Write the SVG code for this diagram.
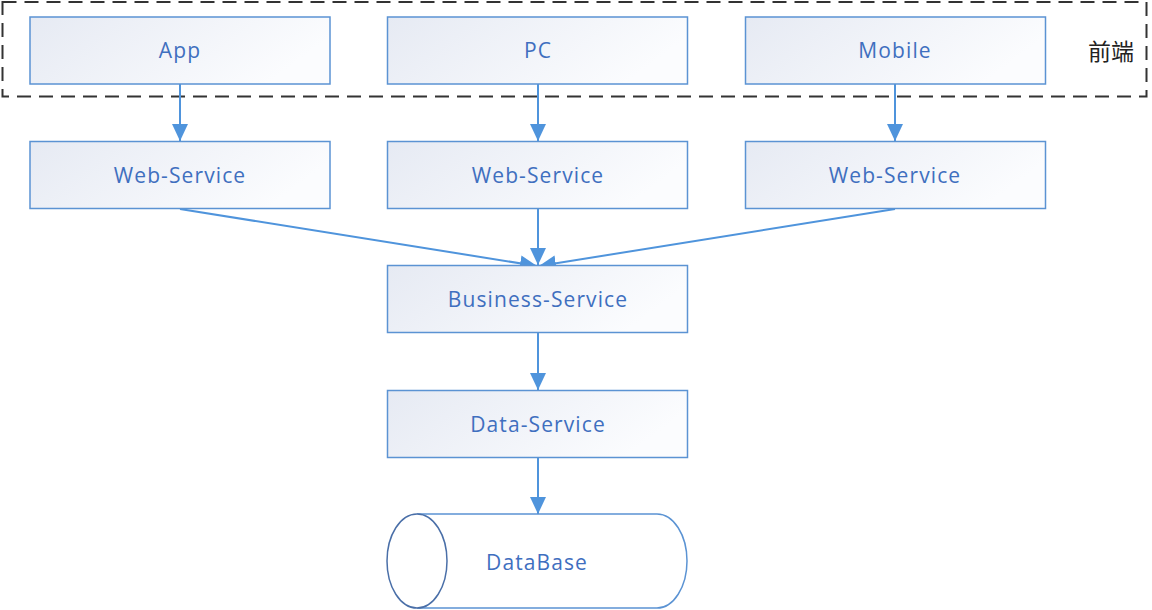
<svg xmlns="http://www.w3.org/2000/svg" width="1152" height="610" viewBox="0 0 1152 610">
<style>
.box{fill:url(#g);stroke:#5b93d3;stroke-width:1.5}
.t{font-family:"Open Sans","Noto Sans",sans-serif;font-size:21px;letter-spacing:1.1px;fill:#3f6fbf;text-anchor:middle;dominant-baseline:central}
</style>
<defs>
<linearGradient id="g" x1="0" y1="0" x2="1" y2="0.3">
<stop offset="0" stop-color="#e6eaf3"/>
<stop offset="1" stop-color="#fbfcfe"/>
</linearGradient>
<marker id="a2" markerWidth="18" markerHeight="18" refX="17" refY="8" orient="auto" markerUnits="userSpaceOnUse">
<path d="M0,0 L17,8 L0,16 z" fill="#4f94dc"/>
</marker>
</defs>
<rect width="1152" height="610" fill="#ffffff"/>
<g id="frontend-group">
<rect x="2.5" y="2" width="1144" height="94.5" fill="none" stroke="#333" stroke-width="2" stroke-dasharray="14,8"/>
<text x="1111" y="50" font-family="'Noto Sans CJK SC',sans-serif" font-size="23" fill="#222" text-anchor="middle" dominant-baseline="central">前端</text>
</g>
<g id="connectors">
<line x1="180" y1="84" x2="180" y2="141" stroke="#4f94dc" stroke-width="2" marker-end="url(#a2)"/>
<line x1="538" y1="84" x2="538" y2="141" stroke="#4f94dc" stroke-width="2" marker-end="url(#a2)"/>
<line x1="895" y1="84" x2="895" y2="141" stroke="#4f94dc" stroke-width="2" marker-end="url(#a2)"/>
<line x1="180" y1="209" x2="537" y2="266" stroke="#4f94dc" stroke-width="2" marker-end="url(#a2)"/>
<line x1="538" y1="209" x2="538" y2="265" stroke="#4f94dc" stroke-width="2" marker-end="url(#a2)"/>
<line x1="895" y1="209" x2="539" y2="266" stroke="#4f94dc" stroke-width="2" marker-end="url(#a2)"/>
<line x1="538" y1="333" x2="538" y2="390" stroke="#4f94dc" stroke-width="2" marker-end="url(#a2)"/>
<line x1="538" y1="458" x2="538" y2="514" stroke="#4f94dc" stroke-width="2" marker-end="url(#a2)"/>
</g>
<g id="app"><rect class="box" x="30" y="17" width="300" height="67"/><text class="t" x="180" y="50">App</text></g>
<g id="pc"><rect class="box" x="387.5" y="17" width="300" height="67"/><text class="t" x="538" y="50">PC</text></g>
<g id="mobile"><rect class="box" x="745.5" y="17" width="300" height="67"/><text class="t" x="895" y="50">Mobile</text></g>
<g id="web1"><rect class="box" x="30" y="141.5" width="300" height="67"/><text class="t" x="180" y="175">Web-Service</text></g>
<g id="web2"><rect class="box" x="387.5" y="141.5" width="300" height="67"/><text class="t" x="538" y="175">Web-Service</text></g>
<g id="web3"><rect class="box" x="745.5" y="141.5" width="300" height="67"/><text class="t" x="895" y="175">Web-Service</text></g>
<g id="business"><rect class="box" x="387.5" y="265.5" width="300" height="67"/><text class="t" x="538" y="299">Business-Service</text></g>
<g id="data"><rect class="box" x="387.5" y="390.5" width="300" height="67"/><text class="t" x="538" y="424">Data-Service</text></g>
<g id="database">
<path d="M417,514 L657,514 A30,47 0 0 1 657,608 L417,608" fill="#fff" stroke="#5b93d3" stroke-width="1.5"/>
<ellipse cx="417" cy="561" rx="30" ry="47" fill="#fff" stroke="#4a6fa8" stroke-width="1.5"/>
<text class="t" x="537" y="562">DataBase</text>
</g>
</svg>
